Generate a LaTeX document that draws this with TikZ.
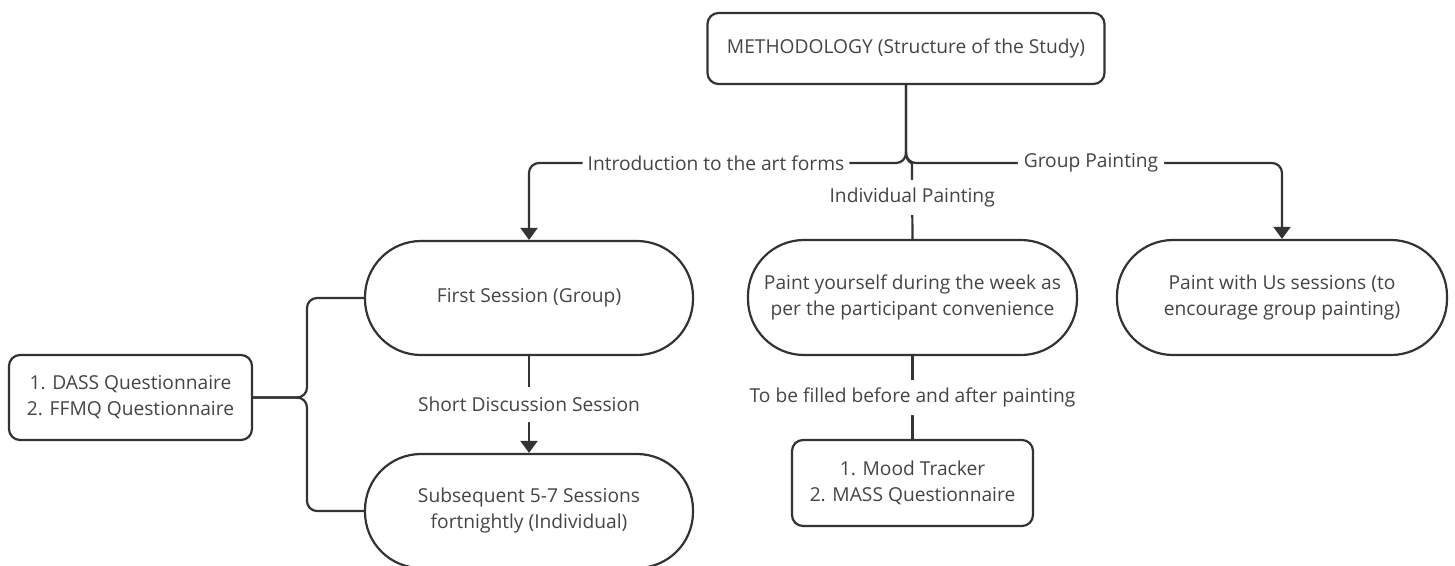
\documentclass[tikz,border=0pt]{standalone}
\usepackage{fontspec}
\setmainfont{Open Sans}
\usetikzlibrary{arrows.meta}
\usetikzlibrary{positioning}
\definecolor{linegray}{HTML}{333333}
\definecolor{textgray}{HTML}{444444}
\tikzset{
    box/.style={
        draw=linegray,        % frame colour
        line width=2.2pt,     % frame thickness
        rounded corners=11pt,
        align=center,
        text=textgray,
        inner sep=0pt,
        font=\fontsize{19.2}{26}\selectfont
    },
    pill/.style={
        box,
        rounded corners=56pt  % half of the height
    },
    conn/.style={
        draw=linegray,
        line width=2.2pt,
        rounded corners=10pt
    },
    flow/.style={
        conn,
        -{Triangle[width=17pt,length=12pt]}
    },
    lbl/.style={
        fill=white,
        text=textgray,
        inner xsep=5pt,
        inner ysep=0pt,
        minimum height=35pt,
        font=\fontsize{19.2}{26}\selectfont
    }
}

\begin{document}
\begin{tikzpicture}[x=1pt, y=-1pt]

\useasboundingbox (0,0) rectangle (1455,565);

% anchor points
\coordinate (Ctop)   at (906,48.5);
\coordinate (Cfirst) at (529,298);
\coordinate (Csub)   at (529,511);
\coordinate (Cpaint) at (912.5,297.5);
\coordinate (Cus)    at (1282,297.5);
\coordinate (Cdass)  at (130.5,397.5);
\coordinate (Cmood)  at (912.5,483);

\coordinate (trunk) at (906,163);
\coordinate (fork)  at (906,152);
\coordinate (bend)  at (912,174);
\coordinate (bx)    at (307,397.5);

% boxes
\node[box, minimum width=397pt, minimum height=71pt] (top) at (Ctop)
    {METHODOLOGY (Structure of the Study)};
\node[pill, minimum width=328pt, minimum height=114pt] (first) at (Cfirst)
    {First Session (Group)};
\node[pill, minimum width=328pt, minimum height=114pt] (subseq) at (Csub)
    {Subsequent 5-7 Sessions\\fortnightly (Individual)};
\node[pill, minimum width=329pt, minimum height=115pt] (paint) at (Cpaint)
    {Paint yourself during the week as\\per the participant convenience};
\node[pill, minimum width=330pt, minimum height=115pt] (paintus) at (Cus)
    {Paint with Us sessions (to\\encourage group painting)};
\node[box, minimum width=243pt, minimum height=85pt] (dass) at (Cdass)
    {1. DASS Questionnaire\\2. FFMQ Questionnaire};
\node[box, minimum width=241pt, minimum height=86pt] (mood) at (Cmood)
    {1. Mood Tracker\\2. MASS Questionnaire};

% connectors
\draw[flow] (top.south) -- (trunk) -| node[lbl, pos=0.252] {Introduction to the art forms} (first.north);
\draw[flow] (top.south) -- (trunk) -| node[lbl, pos=0.246, inner xsep=6pt] {Group Painting} (paintus.north);
\draw[conn] (fork) .. controls (906,163) and (912,162) .. (bend)
    -- node[lbl, pos=0.36] {Individual Painting} (paint.north);

\draw[flow] (first.south) -- node[lbl] {Short Discussion Session} (subseq.north);
\draw[conn] (paint.south) -- node[lbl] {To be filled before and after painting} (mood.north);

\draw[conn] (dass.east) -- (bx) |- (first.west);
\draw[conn] (dass.east) -- (bx) |- (subseq.west);

\end{tikzpicture}
\end{document}
